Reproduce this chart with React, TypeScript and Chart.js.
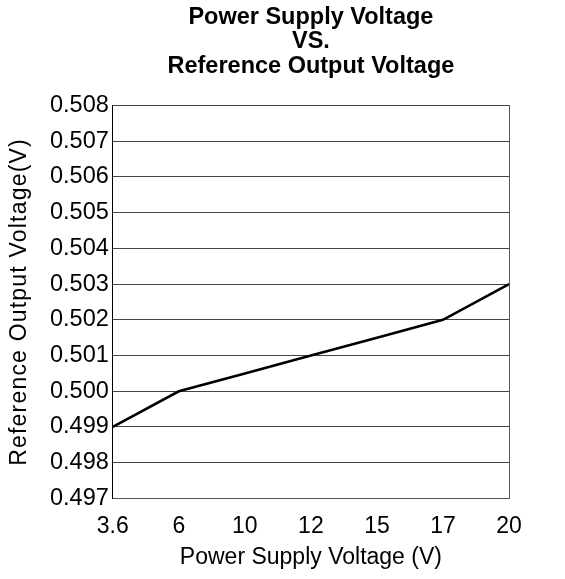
import React, { useEffect, useRef } from "react";
import { Chart, registerables } from "chart.js";

Chart.register(...registerables);

const supplyVoltages = ["3.6", "6", "10", "12", "15", "17", "20"];
const referenceOutput = [0.499, 0.5, 0.5005, 0.501, 0.5015, 0.502, 0.503];
const titleLines = ["Power Supply Voltage", "VS.", "Reference Output Voltage"];
const xTitle = "Power Supply Voltage (V)";
const yTitle = "Reference Output Voltage(V)";
const yMin = 0.497;
const yMax = 0.508;
const yStep = 0.001;

const FONT = "'Liberation Sans', Arial, sans-serif";

const axisTitlesPlugin = {
  id: "axisTitles",
  afterDraw(chart: any) {
    const { ctx, chartArea } = chart;
    ctx.save();
    ctx.fillStyle = "#000";
    ctx.textAlign = "center";
    ctx.textBaseline = "middle";
    ctx.font = `23px ${FONT}`;
    ctx.fillText(xTitle, (chartArea.left + chartArea.right) / 2, 558);
    ctx.translate(20, (chartArea.top + chartArea.bottom) / 2);
    ctx.rotate(-Math.PI / 2);
    try {
      (ctx as any).letterSpacing = "1.2px";
    } catch (e) {}
    ctx.fillText(yTitle, 0, 0);
    ctx.restore();
  },
};

export default function App() {
  const ref = useRef<HTMLCanvasElement | null>(null);
  useEffect(() => {
    document.body.style.margin = "0";
    const ctx = ref.current!;
    const chart = new Chart(ctx, {
      type: "line",
      data: {
        labels: supplyVoltages,
        datasets: [
          {
            data: referenceOutput,
            borderColor: "#000",
            borderWidth: 2.6,
            pointRadius: 0,
            tension: 0,
            fill: false,
          },
        ],
      },
      options: {
        animation: false,
        responsive: false,
        devicePixelRatio: 1,
        layout: { padding: { top: 0, right: 56, bottom: 25, left: 46 } },
        plugins: {
          legend: { display: false },
          tooltip: { enabled: false },
          title: {
            display: true,
            text: titleLines,
            fullSize: false,
            color: "#000",
            font: { family: FONT, size: 23.5, weight: "bold", lineHeight: 1.043 },
            padding: { top: 5, bottom: 27 },
          },
        },
        scales: {
          x: {
            type: "category",
            offset: false,
            grid: { display: false, drawTicks: false },
            border: { display: true, color: "#555", width: 1 },
            ticks: {
              color: "#000",
              font: { family: FONT, size: 23 },
              padding: 14,
              maxRotation: 0,
              autoSkip: false,
            },
          },
          y: {
            min: yMin,
            max: yMax,
            grid: { color: "#444", lineWidth: 1, drawTicks: false },
            border: { display: true, color: "#000", width: 1 },
            ticks: {
              stepSize: yStep,
              color: "#000",
              font: { family: FONT, size: 23.5 },
              padding: 4,
              callback: (v: any) => Number(v).toFixed(3),
            },
          },
          y2: {
            position: "right",
            min: yMin,
            max: yMax,
            grid: { drawOnChartArea: false, drawTicks: false },
            border: { display: true, color: "#555", width: 1 },
            ticks: { display: false },
          },
        },
      },
      plugins: [axisTitlesPlugin],
    });
    return () => chart.destroy();
  }, []);
  return (
    <div style={{ width: 565, height: 579 }}>
      <canvas ref={ref} width={565} height={579} style={{ display: "block" }} />
    </div>
  );
}
